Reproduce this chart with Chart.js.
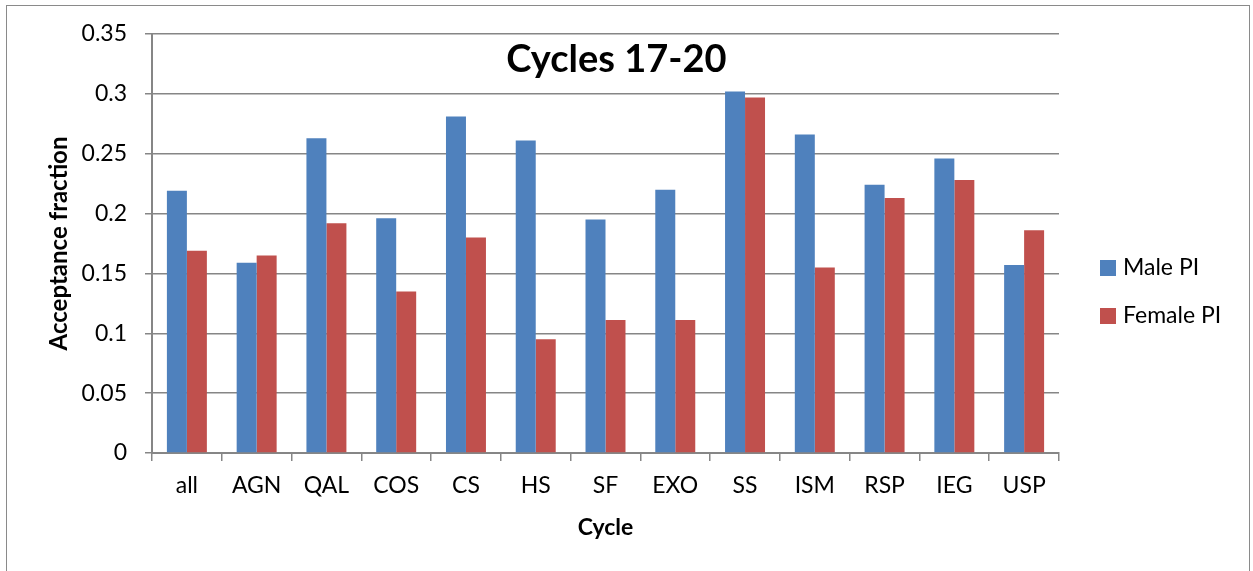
<!DOCTYPE html>
<html>
<head>
<meta charset="utf-8">
<script src="https://cdn.jsdelivr.net/npm/chart.js@4/dist/chart.umd.min.js"></script>
<style>
  html, body { margin: 0; padding: 0; background: #fff; }
  body { width: 1253px; height: 571px; position: relative; overflow: hidden; font-family: Lato, sans-serif; }
  #frame { position: absolute; left: 6px; top: 5px; width: 1244px; height: 600px; border: 1.5px solid #8a8a8a; box-sizing: border-box; }
  #c { position: absolute; left: 0; top: 0; }
  .leg { position: absolute; left: 1100px; font: 23px Lato, sans-serif; color: #000; line-height: 26px; white-space: nowrap; }
  .leg span.box { display: inline-block; width: 16px; height: 16px; vertical-align: -1px; margin-right: 7px; }
</style>
</head>
<body>
<div id="frame"></div>
<canvas id="c" width="1253" height="571"></canvas>
<div class="leg" style="top:253px"><span class="box" style="background:#4F81BD"></span>Male PI</div>
<div class="leg" style="top:301px"><span class="box" style="background:#C0504D"></span>Female PI</div>
<script>
const categories = ['all', 'AGN', 'QAL', 'COS', 'CS', 'HS', 'SF', 'EXO', 'SS', 'ISM', 'RSP', 'IEG', 'USP'];
const malePI   = [0.219, 0.159, 0.263, 0.196, 0.281, 0.261, 0.195, 0.220, 0.302, 0.266, 0.224, 0.246, 0.157];
const femalePI = [0.169, 0.165, 0.192, 0.135, 0.180, 0.095, 0.111, 0.111, 0.297, 0.155, 0.213, 0.228, 0.186];
const seriesNames = ['Male PI', 'Female PI'];
const chartTitle = 'Cycles 17-20';
const xTitle = 'Cycle';
const yTitle = 'Acceptance fraction';

const titlePlugin = {
  id: 'overlayTitle',
  afterDraw(chart) {
    const a = chart.chartArea;
    const ctx = chart.ctx;
    ctx.save();
    ctx.font = 'bold 38px Lato, sans-serif';
    ctx.fillStyle = '#000';
    ctx.textAlign = 'center';
    ctx.textBaseline = 'alphabetic';
    ctx.fillText(chartTitle, a.left + a.width * 0.512, a.top + 38);
    ctx.restore();
  }
};

new Chart(document.getElementById('c'), {
  type: 'bar',
  data: {
    labels: categories,
    datasets: [
      { label: seriesNames[0], data: malePI, backgroundColor: '#4F81BD', borderWidth: 0 },
      { label: seriesNames[1], data: femalePI, backgroundColor: '#C0504D', borderWidth: 0 }
    ]
  },
  options: {
    responsive: false,
    animation: false,
    layout: { padding: { left: 0, right: 194, top: 34, bottom: 0 } },
    datasets: { bar: { categoryPercentage: 0.573, barPercentage: 1.0 } },
    plugins: {
      legend: { display: false },
      title: { display: false },
      tooltip: { enabled: false }
    },
    scales: {
      x: {
        afterFit: (s) => { s.height = 118; },
        grid: { display: true, drawOnChartArea: false, drawTicks: true, tickLength: 8, color: '#868686', lineWidth: 1.5, offset: true },
        border: { display: true, color: '#868686', width: 2 },
        ticks: { color: '#000', font: { family: 'Lato', size: 23 }, padding: 11, maxRotation: 0, autoSkip: false },
        title: { display: true, text: xTitle, color: '#000', font: { family: 'Lato', size: 23, weight: 'bold' }, padding: { top: 0, bottom: 30 } }
      },
      y: {
        min: 0,
        max: 0.35,
        afterFit: (s) => { s.width = 152; },
        ticks: {
          stepSize: 0.05,
          color: '#000',
          font: { family: 'Lato', size: 23 },
          padding: 18,
          callback: (v) => String(Number(v.toFixed(2)))
        },
        grid: { color: '#868686', lineWidth: 1.5, drawTicks: true, tickLength: 7 },
        border: { display: true, color: '#868686', width: 2 },
        title: { display: true, text: yTitle, color: '#000', font: { family: 'Lato', size: 24, weight: 'bold' }, padding: { top: 45, bottom: 0 } }
      }
    }
  },
  plugins: [titlePlugin]
});
</script>
</body>
</html>
